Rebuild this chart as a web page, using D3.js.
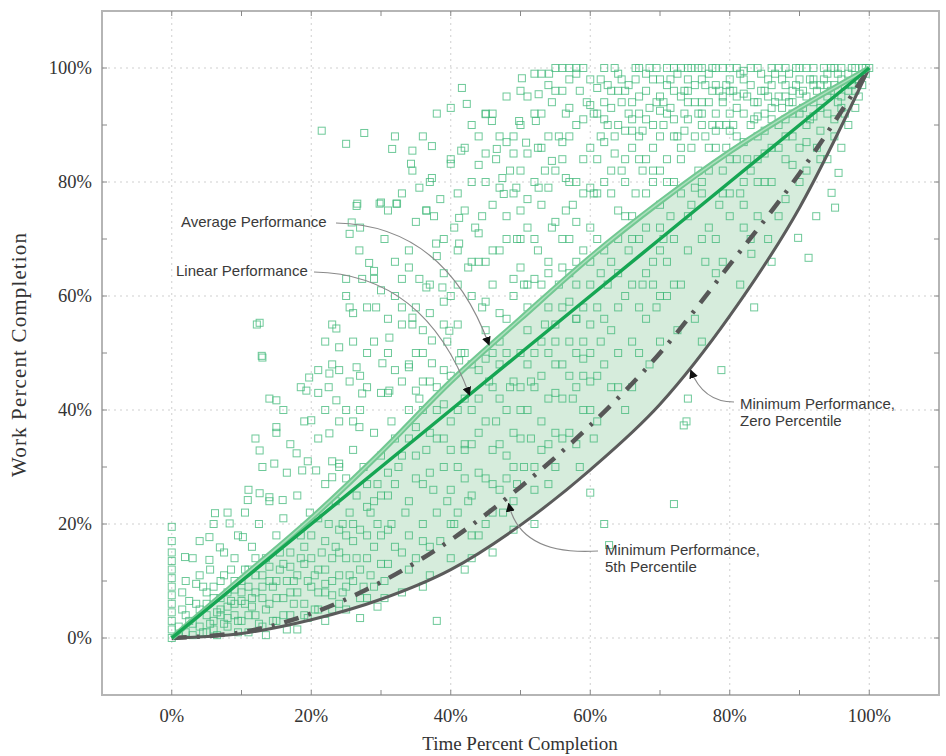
<!DOCTYPE html>
<html>
<head>
<meta charset="utf-8">
<script src="https://cdn.jsdelivr.net/npm/d3@7"></script>
<style>
  body { margin: 0; background: #fff; }
  svg { display: block; }
</style>
</head>
<body>
<div id="chart"></div>
<script>
// reference curves, sampled every 10% of time
const timeGrid = [0, 10, 20, 30, 40, 50, 60, 70, 80, 90, 100]
const averageWork = [0, 10.5, 21, 32.6, 45, 56, 66.8, 76.5, 85.3, 93, 100]
const linearWork = [0, 10, 20, 30, 40, 50, 60, 70, 80, 90, 100]
const pct5Work = [0, 1, 4.3, 9.8, 17.2, 26.5, 37.3, 50, 65.5, 81.5, 100]
const minWork = [0, 0.8, 3.2, 6.8, 12, 19.8, 29.5, 41, 56.5, 75.5, 100]

const xTicks = [0, 20, 40, 60, 80, 100]
const yTicks = [0, 20, 40, 60, 80, 100]
const minorTicks = [0, 10, 20, 30, 40, 50, 60, 70, 80, 90, 100]

// projects: [time %, work %]
const projects = [
  [0,0],[0,1.5],[0,3],[0,4.5],[0,6],[0,7.5],[0,9],[0,10.5],[0,12],[0,13.5],[0,15],[0,17],[0,19.5],
  [1,0.5],[2,1],[2.5,3],[3,0.5],[3.5,6],[4,2],[4.5,9],[5,1],[5,4],[5.5,12],[6,3],[6,7],[6.5,0.5],[7,10],[7,5],
  [7.5,15],[8,2],[8,8],[8.5,12],[9,4],[9,6],[9.5,18],[9.5,1],[10,10],[10,3],[3,14],[2,10],[4,17],[6,20],[8,22],
  [1.5,5],[4,11],[7.5,2.5],[9,14],[5,8],[6,1.5],[7,4],[8,5.5],[9,8.5],[10,6.5],[11,9],[12,11],[13,7],[14,12.5],
  [15,10],[16,13],[17,8],[18,11],[19,16],[20,14],[21,12],[22,17],[23,10],[24,19],[25,14],
  [10.5,6],[11,1],[11,12],[11.5,16],[12,4],[12,8],[12.2,55],[12.9,49.5],[12.5,20],[13,2],[13,11],[13.5,14],
  [14,6],[14,24],[14.5,9],[15,18],[15,3],[15.5,12],[16,7],[16,21],[16.5,29],[17,4],[17,15],[17.5,10],[18,25],
  [18,1.5],[18.5,18],[19,6],[19,13],[19.5,31],[19.8,22],[20,9],[15,36],[16,40],[13,30],[11,26],[17,34],
  [18.5,44],[19,38],[14,42],[10.5,22],[12,35],[19.5,3.5],[16.5,1.5],[13.5,0.5],[11.5,5.5],
  [12.6,32.9],[14.7,30.6],[6.2,21.9],[8.3,20.1],[5.4,17.7],[10.2,17.7],[6.9,15.9],[1.9,14.2],[5.4,13.7],
  [10.9,24.2],[12.6,25.4],[14,24.7],[15.9,24.2],[17.9,32.4],[18.7,29.4],[20.7,29.4],[23,28.2],[24,30.6],
  [26.9,37],[15,37],[20,38.2],[22.6,35.9],
  [1,2],[1.5,8],[2,4],[2.5,6.5],[3,2.5],[3.5,9.5],[4,5],[4.5,1],[5,6],[5.5,2.5],[6,9],[6.5,4.5],[7,7],
  [7.5,11],[8,3.5],[8.5,6.5],[9,10],[9.5,3],[10,8],[10.5,12],[11,4],[11.5,7],[12,14],[12.5,2.5],[13,9],
  [13.5,5],[14,10],[14.5,3],[15,7],[15.5,15],[16,4],[16.5,10],[17,12.5],[17.5,6],[18,8],[18.5,14],[19,4],
  [19.5,10],[20,18],[20.5,11],[21,5],[21.5,15],[22,9.5],[22.5,20],[23,7.5],[23.5,16],[24,11],[24.5,8],
  [25,18],[25.5,22],[26,10],[26.5,14],[27,19],[27.5,9],[28,23],[28.5,11],[29,16],[29.5,20],[30,25],[30.5,7],
  [20.5,5],[21,21],[21,35],[21.5,89],[22,8],[22,27],[22.5,44],[23,14],[23,31],[23.5,24],[24,6],[24,38],
  [24.5,20],[25,86.7],[25,28],[25.5,11],[25.5,45],[26,33],[26,17],[26.5,25],[27,40],[27,7],[27.6,88.6],
  [27.5,30],[28,14],[28,50],[28.5,22],[29,36],[29,9],[29.5,27],[30,43],[30,18],[22,40],[24,47],[26,52],
  [28,58],[29,63],[23,55],[25,60],[27,72],[21,47],[24,30],[26,38],[28,27],[30,32],[29.5,5.5],[27,3.5],
  [25.8,72.9],[26.5,75.8],[28.3,65.8],[29,64.4],
  [26.6,76.2],[29.8,76.2],[32.2,76.2],[37.6,74],[41.2,73.7],[25.5,70.9],[26.9,68],[25,63],[27.3,63],
  [37.9,69.2],[41.2,69.2],[36.5,61.5],[38.8,61.5],[25.5,58],[29.3,58],[33,58],[12.6,55.3],[23.6,54.3],
  [13,49.2],[31.2,52.7],[34.5,56.2],[37.3,52.2],[39.8,53.9],[19.7,45.7],[22.6,46.4],[26.5,47.5],[30.2,48.2],
  [34,47.5],[37.3,48.2],[41.2,48.7],[15,41.7],[19.3,43.4],[23.6,41.7],[27.3,42.9],[31.2,43.4],[35,43.4],
  [21,43],[23,48],[25,40],[27,46],[29,52],[31,56],[33,63],[35,50],[37,57],[39,59],[24,51],[28,44],[32,47],
  [36,54],[22,52],[26,57],[30,61],[34,65],[38,67],
  [30.5,10],[31,25],[31,50],[31.5,38],[32,16],[32,60],[32.5,30],[33,45],[33,8],[33.5,22],[34,35],[34,68],
  [34.5,55],[35,14],[35,28],[35.5,42],[36,20],[36,50],[36.5,33],[37,62],[37,11],[37.5,26],[38,3],[38,40],
  [38.5,17],[39,55],[39,30],[39.5,24],[40,46],[40,14],[31,75],[33,78],[35,73],[37,80],[39,70],[36,88],
  [38,92],[40,84],[32,66],[34,48],[36,40],[38,35],[40,38],[35,58],[39,64],[33,55],[37,45],[31,43],[30.5,70],
  [32,88],[34.5,82],[36.5,75],[38.5,77],[40,60],[39.5,52],[35.5,63],[31.5,20],[34,12],[36,9],
  [40.5,20],[41,30],[41,55],[41.6,96.5],[42,12],[42,42],[42.5,65],[43,25],[43,48],[43.5,72],[44,18],[44,36],
  [44.5,58],[45,28],[45,80],[45.5,45],[46,15],[46,62],[46.5,38],[47,52],[47,88],[47.5,22],[48,70],[48,32],
  [48.5,44],[49,60],[49,85],[49.5,27],[50,50],[50,75],[41,78],[42,86],[43,90],[44,83],[45,92],[46,76],
  [47,68],[48,95],[49,78],[50,90],[41,68],[43,60],[45,66],[47,42],[49,36],[42,33],[44,47],[46,50],[48,56],
  [50,40],[43,14],[45,20],[47,26],[49,19],[40.5,72],[44.5,74],[46.5,84],[48.5,82],[50,65],[41.5,50],
  [42.5,24],[46,33],[44,66],[49.5,70],
  [42,75],[43,80],[44,71],[45,85],[46,68],[47,79],[48,74],[49,88],[50,82],[51,77],[52,70],[53,86],[54,79],
  [55,73],[56,87],[57,80],[58,73],[59,84],[60,79],[44,88],[46,92],[48,87],[50,70],[52,63],[54,58],[56,65],
  [58,56],[60,62],[41,62],[43,66],[45,59],[47,57],[49,63],[51,54],[53,52],[55,55],[57,59],[59,49],[61,58],
  [63,54],[65,60],[67,58],[69,62],[71,66],
  [50.2,98.2],[54.1,99],[52.6,95.4],[40,93],[42.3,93.7],[45,91.9],[45.9,90.7],[49.8,90.7],[52.2,90.7],
  [31.6,85.8],[34.5,85.5],[37.3,86.3],[41.5,85.5],[46.6,85.8],[50.8,86.9],[34.3,83.2],[35.5,79],[37.3,80.7],
  [40,83.2],[30,76.4],[32.3,76.2],[36.5,75],[47.4,80.7],[47.6,77.9],[49.4,79],[52.6,79],[54.5,83.7],[56.5,80.7],
  [50.5,30],[51,58],[51,95],[51.5,45],[52,80],[52,20],[52.5,68],[53,38],[53,99],[53.5,55],[54,88],[54,27],
  [54.5,72],[55,48],[55,96],[55.5,62],[56,35],[56,84],[56.5,75],[57,52],[57,98],[57.5,42],[58,90],[58,66],
  [58.5,30],[59,78],[59,58],[59.5,94],[60,45],[60,86],[51,85],[52,92],[53,76],[54,64],[55,82],[56,70],
  [57,88],[58,80],[59,68],[60,98],[51,72],[52,50],[53,62],[54,42],[55,36],[56,58],[57,64],[58,50],[59,40],
  [60,72],[55,100],[57,100],[59,100],[52.5,86],[54.5,94],[56.5,92],[58.5,96],[53.5,82],[50.5,62],[51.5,35],
  [57.5,76],[55.5,88],[58,62],[60,55],
  [56,96],[57,93],[58,99],[59,91],[56,100],[58,100],[54,97],[52,99],[50,96],[53,92],
  [60.5,35],[61,92],[61,70],[61.5,52],[62,100],[62,80],[62,20],[62.7,16.3],[62.5,62],[63,96],[63,44],
  [63.5,88],[64,75],[64,58],[64.5,98],[65,84],[65,40],[65.5,68],[66,94],[66,52],[66.5,78],[67,100],[67,88],
  [67.5,62],[68,96],[68,72],[68.5,48],[69,90],[69,80],[69.5,58],[70,98],[70,68],[61,84],[62,94],[63,78],
  [64,90],[65,96],[66,86],[67,92],[68,84],[69,98],[70,88],[61.5,98],[62.5,90],[63.5,100],[64.5,82],
  [65.5,92],[66.5,98],[67.5,82],[68.5,100],[69.5,94],[60.5,78],[61.5,64],[63,66],[65,74],[67,70],[69,66],
  [70,76],[61,46],[64,50],[66,44],[68,56],[70,60],[62,56],[66,62],[60,25.5],[72,23.5],
  [60.5,92],[61,96.5],[61.5,88],[62,91],[62.5,97],[63,93],[63.5,85],[64,99],[64.5,94],[65,89],[65.5,97],
  [66,91],[66.5,100],[67,95],[67.5,89],[68,99],[68.5,93],[69,86],[69.5,100],[70,95],[60,93.5],[62,87],
  [64,96],[66,89],[68,91],[70,92.5],[61,78],[63,82],[65,80],[67,84],[69,82],
  [70.5,94],[71,100],[71,84],[71.5,74],[72,96],[72,62],[72.5,88],[73,100],[73,78],[73.5,92],[73.8,38],
  [74,68],[74,98],[74.5,86],[75,94],[75,56],[75.5,100],[76,80],[76,90],[76.5,97],[77,72],[77,86],[77.5,100],
  [78,92],[78,64],[78.5,96],[79,82],[79,100],[79.5,90],[80,98],[80,74],[71,92],[72,80],[73,86],[74,94],
  [75,88],[76,98],[77,94],[78,86],[79,94],[80,92],[71.5,98],[73.5,96],[75.5,82],[77.5,90],[79.5,97],
  [70.5,70],[72.5,54],[74.5,76],[76.5,66],[78.5,76],[80,84],[71,60],[76,52],[72,100],[74,100],[76,100],
  [78,100],[80,100],[78.8,47],[74,42],[73.4,37.3],
  [70.5,90],[71,97],[71.5,93],[72,88],[72.5,99],[73,95],[73.5,89],[74,91],[74.5,100],[75,97],[75.5,92],
  [76,94],[76.5,88],[77,99],[77.5,96],[78,97],[78.5,90],[79,95],[79.5,86],[80,96],[72,91],[74,96],[76,92],
  [78,89],[80,89],[71,80],[73,84],[75,79],[77,82],[79,78],
  [80.5,96],[81,100],[81,88],[81.5,78],[82,98],[82,92],[82.5,84],[83,100],[83,70],[83.5,94],[84,88],
  [84,100],[84.5,96],[85,80],[85,92],[85.5,98],[86,86],[86,100],[86.5,94],[87,74],[87,90],[87.5,98],
  [88,84],[88,100],[88.5,94],[89,88],[89,96],[89.5,100],[90,92],[90,98],[81,95],[83,90],[85,96],[87,100],
  [89,92],[82,76],[84,80],[86,66],[88,77],[90,86],[81.5,62],[83.5,58],[85.5,70],[84,74],[82,99.5],[86,97],
  [88,91],[83.1,67.4],
  [80.5,90],[81,93],[81.5,99],[82,87],[82.5,95],[83,97],[83.5,91],[84,94],[84.5,99],[85,89],[85.5,95],
  [86,91],[86.5,99],[87,95],[87.5,93],[88,97],[88.5,99],[89,94],[89.5,97],[90,100],[82,95.5],[84,91.5],
  [86,93],[88,95],[90,95.5],[81,84],[83,82],[85,85],[87,86],[89,83],
  [90.5,96],[91,100],[91,90],[91.5,98],[92,94],[92,100],[92.5,86],[93,97],[93.5,100],[94,92],[94,99],
  [94.5,96],[95,100],[95,88],[95.5,94],[96,98],[96,100],[96.5,92],[97,96],[97.5,100],[98,98],[98.5,95],
  [99,100],[99.5,99],[100,100],[91,82],[93,89],[90,80],[89.8,70.2],[91.3,66.7],[92.4,74],[95.1,75.5],
  [94.6,78.1],[95.6,81.6],[97,90],[98,93],[92,97],[94,84],[96,86],
  [90.5,93],[91,95],[91.5,91],[92,98],[92.5,96],[93,93],[93.5,98],[94,95],[94.5,100],[95,97],[95.5,99],
  [96,95],[96.5,97],[97,99],[97.5,97],[98,100],[98.5,98],[99,97],[99.5,100],[92,91.5],[94,97],[96,93],
  [98,96],[91,87],[93,84],[95,91],
  [21,8],[22,12],[23,5],[24,15],[25,9],[26,20],[27,12],[28,18],[29,24],[30,13],[31,19],[32,27],[33,15],
  [34,24],[35,32],[36,17],[37,29],[38,22],[39,35],[40,26],[41,22],[42,34],[43,40],[44,29],[45,38],[46,27],
  [47,34],[48,40],[49,30],[50,44],[51,40],[52,30],[53,46],[54,34],[55,43],[56,48],[57,36],[58,44],[59,52],
  [60,40],[22,3],[25,5],[28,7],[31,13],[34,18],[37,16],[40,20],[43,18],[46,22],[49,24],[52,26],[55,30],
  [58,34],[61,38],[64,44],[67,50],[70,52],[73,62],[76,70],[79,66],[82,72],
  [31,29],[32,35],[33,32],[34,40],[35,37],[36,27],[37,36],[38,44],[39,41],[40,33],[41,40],[42,28],[43,34],
  [44,42],[45,49],[46,44],[47,48],[48,28],[49,45],[50,35],[51,48],[52,44],[53,33],[54,50],[55,52],[56,42],
  [57,46],[58,56],[59,46],[60,50],[62,48],[64,64],[66,70],[68,64],[70,72],[72,70],[74,74],[76,78],[78,70],
  [80,78],[82,80],[84,84],[86,80],[88,88],[62,68],[64,70],[66,74],[68,78],[70,82],[36,45],[39,47],[42,50],
  [45,54],[48,50],[51,62],[54,66],[57,70],[60,66]
]

const width = 946
const height = 756
const frame = { left: 102, right: 939, top: 11, bottom: 695 }

const svg = d3.select('#chart').append('svg')
  .attr('width', width)
  .attr('height', height)

const x = d3.scaleLinear().domain([-10, 110]).range([frame.left, frame.right])
const y = d3.scaleLinear().domain([-10, 110]).range([frame.bottom, frame.top])

// dotted grid
svg.append('g').selectAll('line').data(xTicks).join('line')
  .attr('x1', d => x(d)).attr('x2', d => x(d))
  .attr('y1', frame.top).attr('y2', frame.bottom)
  .attr('stroke', '#cfcfcf').attr('stroke-dasharray', '2,4')
svg.append('g').selectAll('line').data(yTicks).join('line')
  .attr('y1', d => y(d)).attr('y2', d => y(d))
  .attr('x1', frame.left).attr('x2', frame.right)
  .attr('stroke', '#cfcfcf').attr('stroke-dasharray', '2,4')

const curve = (values) => d3.line()
  .x((d, i) => x(timeGrid[i]))
  .y(d => y(d))
  .curve(d3.curveMonotoneX)(values)

// shaded band between average and minimum
const band = d3.area()
  .x((d, i) => x(timeGrid[i]))
  .y0((d, i) => y(minWork[i]))
  .y1(d => y(d))
  .curve(d3.curveMonotoneX)
svg.append('path')
  .attr('d', band(averageWork))
  .attr('fill', '#d6ecdc')

// project squares
const side = 7
svg.append('g').selectAll('rect').data(projects).join('rect')
  .attr('x', d => x(d[0]) - side / 2)
  .attr('y', d => y(d[1]) - side / 2)
  .attr('width', side)
  .attr('height', side)
  .attr('fill', 'none')
  .attr('stroke', '#3db777')
  .attr('stroke-opacity', 0.75)
  .attr('stroke-width', 1)

// curves
svg.append('path').attr('d', curve(minWork))
  .attr('fill', 'none').attr('stroke', '#5b5b5b').attr('stroke-width', 3)
svg.append('path').attr('d', curve(pct5Work))
  .attr('fill', 'none').attr('stroke', '#575757').attr('stroke-width', 4.5)
  .attr('stroke-dasharray', '15,10,3,10')
svg.append('path').attr('d', curve(averageWork))
  .attr('fill', 'none').attr('stroke', '#72c892').attr('stroke-width', 5.5)
svg.append('path').attr('d', curve(averageWork))
  .attr('fill', 'none').attr('stroke', '#ace0bd').attr('stroke-width', 1.5)
svg.append('path').attr('d', curve(linearWork))
  .attr('fill', 'none').attr('stroke', '#16a653').attr('stroke-width', 3.5)

// frame and ticks
svg.append('rect')
  .attr('x', frame.left).attr('y', frame.top)
  .attr('width', frame.right - frame.left).attr('height', frame.bottom - frame.top)
  .attr('fill', 'none').attr('stroke', '#b5b5b5').attr('stroke-width', 2)

const ticks = svg.append('g').attr('stroke', '#888').attr('stroke-width', 1)
minorTicks.forEach(d => {
  ticks.append('line').attr('x1', x(d)).attr('x2', x(d)).attr('y1', frame.bottom).attr('y2', frame.bottom - 5)
  ticks.append('line').attr('x1', x(d)).attr('x2', x(d)).attr('y1', frame.top).attr('y2', frame.top + 5)
  ticks.append('line').attr('y1', y(d)).attr('y2', y(d)).attr('x1', frame.left).attr('x2', frame.left + 5)
  ticks.append('line').attr('y1', y(d)).attr('y2', y(d)).attr('x1', frame.right).attr('x2', frame.right - 5)
})

const serif = '"Liberation Serif", "DejaVu Serif", serif'
const fmt = d => d + '%'

svg.append('g').selectAll('text').data(yTicks).join('text')
  .attr('x', 92).attr('y', d => y(d)).attr('dy', '0.35em')
  .attr('text-anchor', 'end')
  .attr('font-family', serif).attr('font-size', 18.5).attr('fill', '#333')
  .text(fmt)
svg.append('g').selectAll('text').data(xTicks).join('text')
  .attr('x', d => x(d)).attr('y', 722)
  .attr('text-anchor', 'middle')
  .attr('font-family', serif).attr('font-size', 18.5).attr('fill', '#333')
  .text(fmt)

svg.append('text')
  .attr('x', 520).attr('y', 750)
  .attr('text-anchor', 'middle')
  .attr('font-family', serif).attr('font-size', 19).attr('fill', '#333')
  .text('Time Percent Completion')
svg.append('text')
  .attr('transform', 'translate(26,355) rotate(-90)')
  .attr('text-anchor', 'middle')
  .attr('font-family', serif).attr('font-size', 21).attr('fill', '#333')
  .attr('textLength', 244).attr('lengthAdjust', 'spacing')
  .text('Work Percent Completion')

// annotations
svg.append('defs').append('marker')
  .attr('id', 'head')
  .attr('viewBox', '0 0 10 10')
  .attr('refX', 9).attr('refY', 5)
  .attr('markerWidth', 9).attr('markerHeight', 9)
  .attr('markerUnits', 'userSpaceOnUse')
  .attr('orient', 'auto')
  .append('path').attr('d', 'M0,0 L10,5 L0,10 z').attr('fill', '#111')

const sans = '"Liberation Sans", Arial, sans-serif'
const notes = [
  { lines: ['Average Performance'], tx: 181, ty: 227, from: [336, 223], ctrl: [445, 225], tip: [45.5, 51.4] },
  { lines: ['Linear Performance'], tx: 176, ty: 276, from: [314, 272], ctrl: [425, 274], tip: [42.7, 42.6] },
  { lines: ['Minimum Performance,', 'Zero Percentile'], tx: 740, ty: 409, from: [734, 402], ctrl: [703, 402], tip: [74.4, 47] },
  { lines: ['Minimum Performance,', '5th Percentile'], tx: 605, ty: 555, from: [598, 551], ctrl: [520, 556], tip: [48.3, 23.6] }
]
notes.forEach(n => {
  const t = svg.append('text')
    .attr('x', n.tx).attr('y', n.ty)
    .attr('font-family', sans).attr('font-size', 15).attr('fill', '#3a3a3a')
  n.lines.forEach((l, i) => {
    t.append('tspan').attr('x', n.tx).attr('dy', i === 0 ? 0 : 17).text(l)
  })
  const path = d3.path()
  path.moveTo(n.from[0], n.from[1])
  path.quadraticCurveTo(n.ctrl[0], n.ctrl[1], x(n.tip[0]), y(n.tip[1]))
  svg.append('path').attr('d', path.toString())
    .attr('fill', 'none').attr('stroke', '#8a8a8a').attr('stroke-width', 1.2)
    .attr('marker-end', 'url(#head)')
})
</script>
</body>
</html>
